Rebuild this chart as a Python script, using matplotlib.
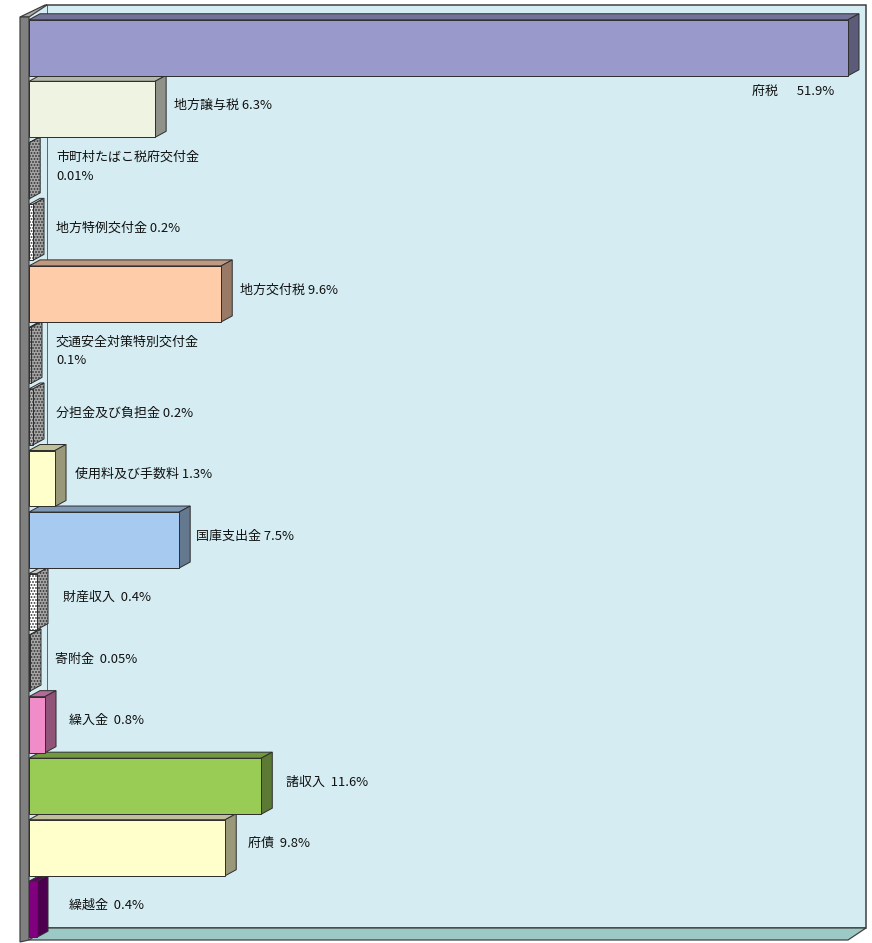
import numpy as np
import matplotlib
matplotlib.use("Agg")
import matplotlib.pyplot as plt
from matplotlib.patches import Polygon
from matplotlib.colors import to_rgb

plt.rcParams['font.family'] = ['Noto Sans CJK JP', 'DejaVu Sans']
plt.rcParams['hatch.color'] = '#3a3a3a'
plt.rcParams['hatch.linewidth'] = 1.2

# data (percent of revenue)
categories = ['府税', '地方譲与税', '市町村たばこ税府交付金', '地方特例交付金', '地方交付税',
              '交通安全対策特別交付金', '分担金及び負担金', '使用料及び手数料', '国庫支出金',
              '財産収入', '寄附金', '繰入金', '諸収入', '府債', '繰越金']
shares = [51.9, 6.3, 0.01, 0.2, 9.6, 0.1, 0.2, 1.3, 7.5, 0.4, 0.05, 0.8, 11.6, 9.8, 0.4]
share_text = ['51.9%', '6.3%', '0.01%', '0.2%', '9.6%', '0.1%', '0.2%', '1.3%', '7.5%',
              '0.4%', '0.05%', '0.8%', '11.6%', '9.8%', '0.4%']
label_sep = ['\u3000  ', ' ', '\n', ' ', ' ', '\n', ' ', ' ', ' ', '  ', '  ', '  ', '  ', '  ', '  ']

# styling
front_colors = ['#9999CC', '#EEF3E2', '#B4B4B4', '#FFFFFF', '#FFCCAA', '#B4B4B4', '#B4B4B4',
                '#FFFFCC', '#A6CAF0', '#FFFFFF', '#B4B4B4', '#F08CC8', '#99CC55', '#FFFFCC', '#800080']
hatched = [False, False, True, True, False, True, True, False, False, True, True,
           False, False, False, False]
label_gap = [0, 8, 16, 12, 8, 14, 12, 9, 6, 15, 14, 13, 14, 12, 21]

XMAX = 40.9
W, H = 872, 943
fig = plt.figure(figsize=(W / 72, H / 72), dpi=72)
fig.patch.set_facecolor('white')
ax = fig.add_axes([29 / W, 3 / H, 819 / W, 923 / H])
n = len(categories)
ax.set_xlim(0, XMAX)
ax.set_ylim(n, 0)
ax.axis('off')

# pixel -> data units
px = XMAX / 819
py = n / 923.0

def shade(c, f):
    r, g, b = to_rgb(c)
    return (r * f, g * f, b * f)

def poly(pts, fc, z, ec='#404040', lw=1.0, hatch=None):
    p = Polygon(pts, closed=True, facecolor=fc, edgecolor=ec, linewidth=lw,
                zorder=z, clip_on=False, hatch=hatch)
    ax.add_patch(p)

# walls
wdx, wdy = 18 * px, -12 * py
wall = '#D5EDF2'
poly([(wdx, wdy), (XMAX + wdx, wdy), (XMAX + wdx, n + wdy), (wdx, n + wdy)], wall, 1,
     ec='#3c3c3c', lw=1.5)
poly([(0, 0), (wdx, wdy), (wdx, n + wdy), (0, n)], wall, 1, ec='none')
poly([(0, n), (wdx, n + wdy), (XMAX + wdx, n + wdy), (XMAX, n)], '#9CC9C6', 2,
     ec='#3c3c3c', lw=1.2)
poly([(-9 * px, 0), (wdx - 2 * px, wdy), (wdx, wdy), (0, 0)], '#A8A8A8', 2,
     ec='#3c3c3c', lw=1.2)
poly([(-9 * px, 0), (0, 0), (0, n), (-9 * px, n + 2 * py)], '#808080', 2,
     ec='#3c3c3c', lw=1.2)

# 3D bars, drawn bottom-up so upper bars sit over the lower bars' top faces
bdx, bdy = 11 * px, -6 * py
bh = 0.91
for i in range(n - 1, -1, -1):
    v = min(shares[i], XMAX)
    yc = i + 0.5
    y0, y1 = yc - bh / 2, yc + bh / 2
    z = 10 + (n - i) * 3
    fc = front_colors[i]
    if hatched[i]:
        side_c, top_c, h = '#A4A4A4', '#C8C8C8', '....'
    else:
        side_c, top_c, h = shade(fc, 0.6), shade(fc, 0.75), None
    poly([(0, y0), (bdx, y0 + bdy), (v + bdx, y0 + bdy), (v, y0)], top_c, z, ec='#303030')
    poly([(v, y0), (v + bdx, y0 + bdy), (v + bdx, y1 + bdy), (v, y1)], side_c, z + 1,
         ec='#303030', hatch=h)
    ax.barh(yc, v, height=bh, left=0, color=fc, edgecolor='#303030', linewidth=1.0,
            hatch='....' if hatched[i] else None, zorder=z + 2, clip_on=False)

# labels
for i in range(n):
    txt = categories[i] + label_sep[i] + share_text[i]
    v = min(shares[i], XMAX)
    if i == 0:
        ax.annotate(txt, xy=(v, i + 0.5), xytext=(-14, -44), textcoords='offset points',
                    ha='right', va='center', fontsize=13, color='#111111', zorder=100,
                    annotation_clip=False)
    else:
        ax.annotate(txt, xy=(v + bdx, i + 0.5), xytext=(label_gap[i], 4),
                    textcoords='offset points', ha='left', va='center', fontsize=13,
                    color='#111111', linespacing=1.55, zorder=100, annotation_clip=False)

fig.savefig('out.png', dpi=72, facecolor='white')
